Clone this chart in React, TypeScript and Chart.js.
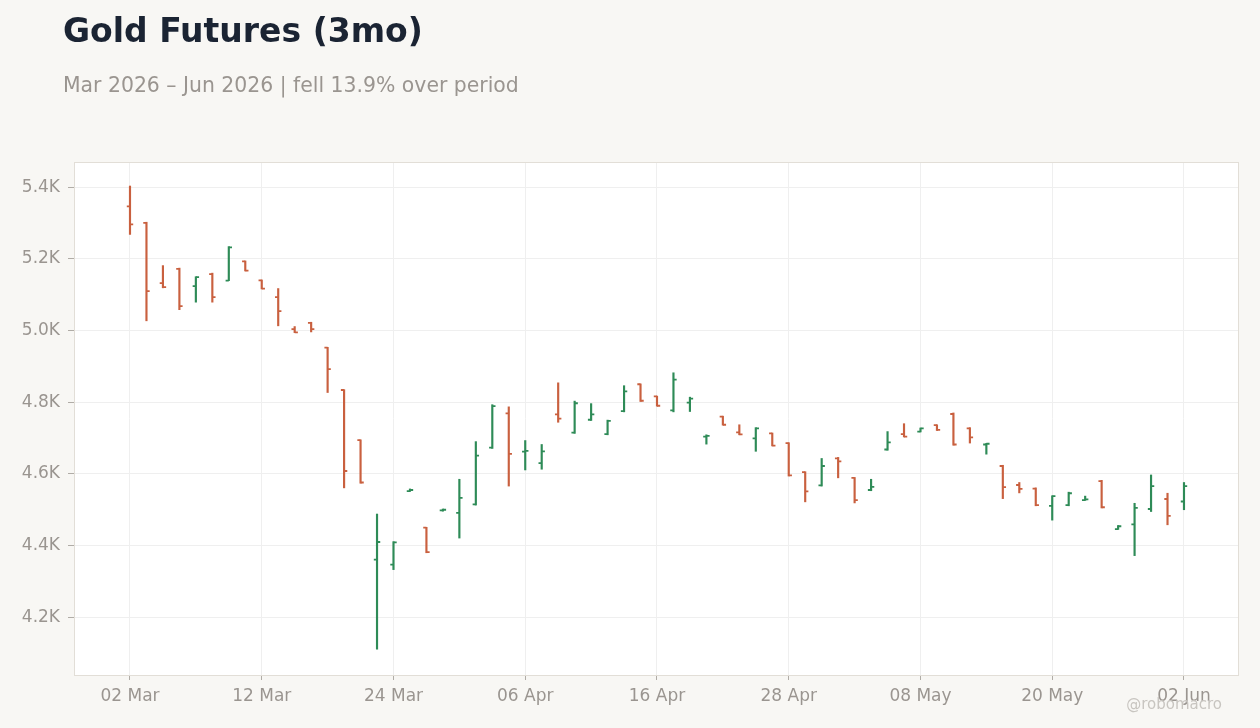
import { useEffect, useRef } from 'react';
import { Chart, registerables } from 'chart.js';

Chart.register(...registerables);

// trading days, 02 Mar – 02 Jun 2026
const dates = [
    '02 Mar', '03 Mar', '04 Mar', '05 Mar', '06 Mar', '09 Mar', '10 Mar', '11 Mar', '12 Mar', '13 Mar',
    '16 Mar', '17 Mar', '18 Mar', '19 Mar', '20 Mar', '23 Mar', '24 Mar', '25 Mar', '26 Mar', '27 Mar',
    '30 Mar', '31 Mar', '01 Apr', '02 Apr', '06 Apr', '07 Apr', '08 Apr', '09 Apr', '10 Apr', '13 Apr',
    '14 Apr', '15 Apr', '16 Apr', '17 Apr', '20 Apr', '21 Apr', '22 Apr', '23 Apr', '24 Apr', '27 Apr',
    '28 Apr', '29 Apr', '30 Apr', '01 May', '04 May', '05 May', '06 May', '07 May', '08 May', '11 May',
    '12 May', '13 May', '14 May', '15 May', '18 May', '19 May', '20 May', '21 May', '22 May', '26 May',
    '27 May', '28 May', '29 May', '01 Jun', '02 Jun',
];

const opens = [
    5346, 5300, 5132, 5172, 5124, 5157, 5139, 5193, 5140, 5093,
    5004, 5021, 4952, 4834, 4694, 4361, 4347, 4552, 4450, 4498,
    4491, 4515, 4673, 4769, 4662, 4630, 4766, 4715, 4751, 4711,
    4775, 4850, 4816, 4777, 4799, 4704, 4760, 4716, 4699, 4713,
    4686, 4605, 4568, 4643, 4589, 4555, 4668, 4711, 4718, 4736,
    4767, 4727, 4682, 4622, 4569, 4559, 4511, 4513, 4527, 4580,
    4446, 4459, 4502, 4530, 4523,
];
const highs = [
    5403, 5302, 5181, 5174, 5150, 5160, 5234, 5194, 5141, 5117,
    5011, 5023, 4953, 4835, 4695, 4488, 4411, 4558, 4451, 4502,
    4585, 4690, 4793, 4787, 4693, 4682, 4854, 4803, 4796, 4750,
    4846, 4851, 4817, 4882, 4814, 4709, 4761, 4737, 4729, 4714,
    4687, 4606, 4643, 4646, 4590, 4585, 4718, 4740, 4728, 4737,
    4770, 4729, 4685, 4624, 4576, 4561, 4539, 4549, 4538, 4582,
    4456, 4518, 4597, 4546, 4576,
];
const lows = [
    5268, 5027, 5119, 5058, 5079, 5079, 5139, 5166, 5116, 5013,
    4994, 4996, 4827, 4561, 4574, 4111, 4333, 4551, 4380, 4496,
    4421, 4513, 4671, 4566, 4611, 4613, 4744, 4713, 4749, 4709,
    4773, 4802, 4789, 4773, 4774, 4683, 4736, 4709, 4663, 4678,
    4594, 4522, 4566, 4589, 4519, 4553, 4666, 4703, 4717, 4721,
    4680, 4686, 4655, 4531, 4547, 4511, 4471, 4511, 4526, 4505,
    4445, 4372, 4495, 4458, 4500,
];
const closes = [
    5296, 5110, 5121, 5068, 5149, 5093, 5232, 5167, 5117, 5054,
    4995, 5004, 4892, 4608, 4576, 4410, 4409, 4555, 4382, 4500,
    4533, 4651, 4789, 4656, 4664, 4663, 4754, 4797, 4766, 4748,
    4830, 4804, 4790, 4863, 4810, 4706, 4737, 4710, 4727, 4679,
    4596, 4551, 4622, 4635, 4527, 4564, 4688, 4704, 4727, 4723,
    4682, 4702, 4684, 4563, 4558, 4513, 4538, 4546, 4529, 4507,
    4454, 4505, 4566, 4483, 4566,
];

const xTickIdx = [0, 8, 16, 24, 32, 40, 48, 56, 64];
const yTicks = [4200, 4400, 4600, 4800, 5000, 5200, 5400];

const UP = '#2e8b57';
const DOWN = '#c9603f';
const MUTED = '#9a9590';

const framePlugin = {
    id: 'frame',
    beforeDraw(chart: any) {
        const { ctx, chartArea: a } = chart;
        ctx.save();
        ctx.fillStyle = '#ffffff';
        ctx.fillRect(a.left, a.top, a.right - a.left, a.bottom - a.top);
        ctx.restore();
    },
    afterDraw(chart: any) {
        const { ctx, chartArea: a } = chart;
        ctx.save();
        ctx.strokeStyle = '#e2ded7';
        ctx.lineWidth = 1;
        ctx.strokeRect(Math.round(a.left) + 0.5, Math.round(a.top) + 0.5, a.right - a.left, a.bottom - a.top);
        ctx.restore();
    },
};

// open tick on the left, close tick on the right of each stem
const ohlcTicks = {
    id: 'ohlcTicks',
    afterDatasetsDraw(chart: any) {
        const meta = chart.getDatasetMeta(0);
        const y = chart.scales.y;
        const ctx = chart.ctx;
        ctx.save();
        ctx.lineWidth = 1.8;
        meta.data.forEach((bar: any, i: number) => {
            const x = bar.x;
            ctx.strokeStyle = closes[i] >= opens[i] ? UP : DOWN;
            const yo = y.getPixelForValue(opens[i]);
            const yc = y.getPixelForValue(closes[i]);
            ctx.beginPath();
            ctx.moveTo(x - 3.2, yo);
            ctx.lineTo(x, yo);
            ctx.moveTo(x, yc);
            ctx.lineTo(x + 3.2, yc);
            ctx.stroke();
        });
        ctx.restore();
    },
};

function OhlcChart() {
    const canvasRef = useRef<HTMLCanvasElement>(null);
    const chartRef = useRef<Chart | null>(null);

    useEffect(() => {
        if (!canvasRef.current) return;
        if (chartRef.current) chartRef.current.destroy();
        const ctx = canvasRef.current.getContext('2d');
        if (!ctx) return;

        Chart.defaults.font.family = "'DejaVu Sans', sans-serif";

        const colors = closes.map((c, i) => (c >= opens[i] ? UP : DOWN));

        chartRef.current = new Chart(ctx, {
            type: 'bar',
            data: {
                datasets: [{
                    data: dates.map((_, i) => ({ x: i, y: [lows[i], highs[i]] })) as any,
                    backgroundColor: colors,
                    borderWidth: 0,
                    barThickness: 1.5,
                    grouped: false,
                }],
            },
            plugins: [framePlugin, ohlcTicks],
            options: {
                responsive: false,
                animation: false,
                layout: { padding: { top: 162, right: 22, left: 0, bottom: 0 } },
                plugins: {
                    legend: { display: false },
                    tooltip: { enabled: false },
                },
                scales: {
                    x: {
                        type: 'linear',
                        min: -3.4,
                        max: 67.28,
                        offset: false,
                        afterBuildTicks: (s: any) => { s.ticks = xTickIdx.map(v => ({ value: v })); },
                        afterFit: (s: any) => { s.height = 53; },
                        grid: { offset: false, color: '#efefef', tickColor: '#b0aca6', tickLength: 5 },
                        border: { display: false },
                        ticks: {
                            autoSkip: false,
                            maxRotation: 0,
                            padding: 6,
                            color: MUTED,
                            font: { size: 17 },
                            callback: (v: any) => dates[v as number],
                        },
                    },
                    y: {
                        min: 4039,
                        max: 5470,
                        afterBuildTicks: (s: any) => { s.ticks = yTicks.map(v => ({ value: v })); },
                        afterFit: (s: any) => { s.width = 74; },
                        grid: { color: '#efefef', tickColor: '#b0aca6', tickLength: 6 },
                        border: { display: false },
                        ticks: {
                            padding: 8,
                            color: MUTED,
                            font: { size: 17 },
                            callback: (v: any) => (v / 1000).toFixed(1) + 'K',
                        },
                    },
                },
            },
        } as any);

        return () => {
            if (chartRef.current) {
                chartRef.current.destroy();
                chartRef.current = null;
            }
        };
    }, []);

    return <canvas ref={canvasRef} width={1260} height={728} style={{ position: 'absolute', left: 0, top: 0 }} />;
}

export default function App() {
    return (
        <div style={{ position: 'fixed', left: 0, top: 0, width: 1260, height: 728, background: '#f8f7f4', overflow: 'hidden', fontFamily: "'DejaVu Sans', sans-serif" }}>
            <OhlcChart />
            <div style={{ position: 'absolute', left: 63, top: 14, fontSize: 33, lineHeight: '33px', fontWeight: 'bold', color: '#1b2433', whiteSpace: 'nowrap' }}>
                Gold Futures (3mo)
            </div>
            <div style={{ position: 'absolute', left: 63, top: 75, fontSize: 20.4, lineHeight: '20px', color: MUTED, whiteSpace: 'nowrap' }}>
                Mar 2026 – Jun 2026 | fell 13.9% over period
            </div>
            <div style={{ position: 'absolute', right: 38, top: 697, fontSize: 15, lineHeight: '15px', color: '#c8c5c0', whiteSpace: 'nowrap' }}>
                @robomacro
            </div>
        </div>
    );
}
